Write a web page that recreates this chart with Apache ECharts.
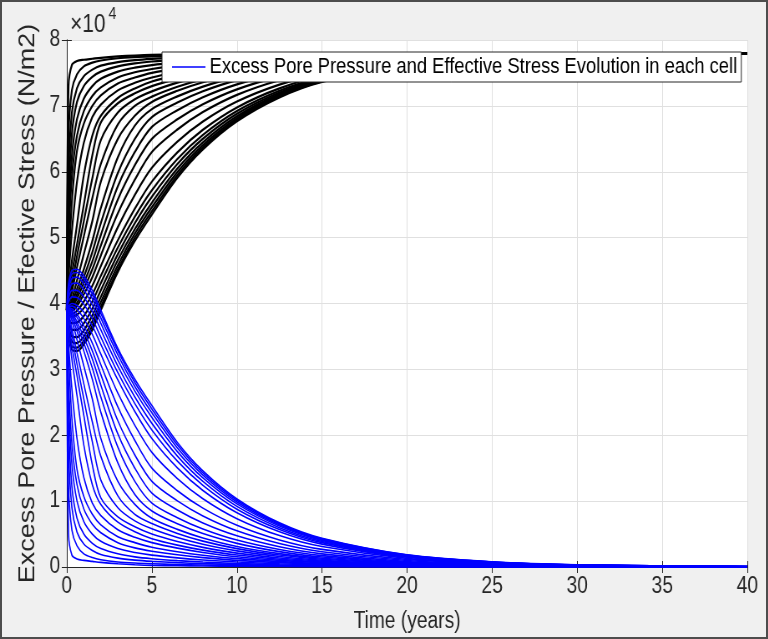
<!DOCTYPE html>
<html>
<head>
<meta charset="utf-8">
<script src="https://cdn.jsdelivr.net/npm/echarts@6/dist/echarts.min.js"></script>
<style>
  html, body { margin: 0; padding: 0; background: #f0f0f0; }
  #frame { position: relative; width: 768px; height: 639px; overflow: hidden; }
  /* the reference figure is squeezed horizontally, so the chart is drawn wider and scaled */
  #main { position: absolute; left: 0; top: 0; width: 920px; height: 639px;
          transform: scaleX(0.835); transform-origin: 0 0; }
  #border { position: absolute; left: 0; top: 0; width: 768px; height: 639px;
            box-sizing: border-box; border: 2px solid #4d4d4d; pointer-events: none; }
</style>
</head>
<body>
<div id="frame"><div id="main"></div><div id="border"></div></div>
<script>
// time samples (years)
var years = [0, 0.1, 0.3, 0.6, 1, 1.5, 2, 3, 4, 5, 6.5, 8, 10, 12.5, 15, 20, 25, 30, 40];

// excess pore pressure in each cell, in 10^4 N/m2
var porePressure = [
  [3.9, 0.5, 0.18, 0.12, 0.1, 0.085, 0.07, 0.05, 0.035, 0.025, 0.019, 0.015, 0.011, 0.007, 0.004, 0.002, 0.001, 0, 0],
  [3.9, 1.25, 0.56, 0.32, 0.2, 0.143, 0.111, 0.077, 0.06, 0.05, 0.039, 0.03, 0.021, 0.014, 0.009, 0.004, 0.002, 0.001, 0],
  [3.9, 1.8, 0.9, 0.53, 0.35, 0.25, 0.19, 0.135, 0.105, 0.086, 0.066, 0.051, 0.036, 0.024, 0.015, 0.006, 0.003, 0.001, 0],
  [3.9, 2.21, 1.22, 0.74, 0.5, 0.36, 0.28, 0.2, 0.154, 0.126, 0.097, 0.075, 0.053, 0.035, 0.022, 0.009, 0.004, 0.002, 0],
  [3.9, 2.57, 1.56, 1.0, 0.69, 0.5, 0.39, 0.28, 0.22, 0.18, 0.139, 0.107, 0.076, 0.049, 0.032, 0.014, 0.006, 0.002, 0],
  [3.9, 2.84, 1.87, 1.25, 0.88, 0.65, 0.52, 0.37, 0.29, 0.24, 0.185, 0.143, 0.101, 0.066, 0.043, 0.018, 0.008, 0.003, 0.001],
  [3.9, 3.25, 2.25, 1.48, 1.07, 0.8, 0.64, 0.46, 0.37, 0.3, 0.232, 0.179, 0.127, 0.082, 0.053, 0.023, 0.01, 0.004, 0.001],
  [3.9, 3.4, 2.7, 1.95, 1.36, 0.97, 0.78, 0.565, 0.45, 0.37, 0.286, 0.221, 0.156, 0.101, 0.066, 0.028, 0.012, 0.005, 0.001],
  [3.9, 3.6, 3.15, 2.6, 1.85, 1.25, 0.95, 0.68, 0.535, 0.43, 0.332, 0.256, 0.181, 0.118, 0.077, 0.032, 0.014, 0.006, 0.001],
  [3.9, 3.72, 3.35, 2.9, 2.3, 1.55, 1.05, 0.76, 0.61, 0.5, 0.386, 0.298, 0.211, 0.137, 0.089, 0.038, 0.016, 0.007, 0.001],
  [3.9, 3.8, 3.52, 3.08, 2.55, 1.9, 1.32, 0.9, 0.7, 0.58, 0.448, 0.346, 0.245, 0.159, 0.103, 0.044, 0.018, 0.008, 0.001],
  [3.9, 3.85, 3.62, 3.25, 2.78, 2.2, 1.68, 1.08, 0.8, 0.66, 0.51, 0.393, 0.279, 0.181, 0.117, 0.05, 0.021, 0.009, 0.002],
  [3.9, 3.88, 3.74, 3.45, 3.05, 2.55, 1.95, 1.3, 0.95, 0.74, 0.571, 0.441, 0.312, 0.203, 0.132, 0.056, 0.024, 0.01, 0.002],
  [3.9, 3.89, 3.8, 3.58, 3.28, 2.85, 2.35, 1.58, 1.1, 0.85, 0.656, 0.507, 0.359, 0.233, 0.151, 0.064, 0.027, 0.011, 0.002],
  [3.9, 3.9, 3.84, 3.66, 3.4, 3.02, 2.58, 1.82, 1.3, 0.97, 0.749, 0.578, 0.409, 0.266, 0.173, 0.073, 0.031, 0.013, 0.002],
  [3.9, 3.91, 3.87, 3.72, 3.49, 3.16, 2.76, 2.02, 1.5, 1.12, 0.865, 0.668, 0.473, 0.307, 0.199, 0.084, 0.036, 0.015, 0.003],
  [3.9, 3.92, 3.89, 3.79, 3.58, 3.28, 2.92, 2.22, 1.7, 1.3, 1.004, 0.775, 0.549, 0.356, 0.231, 0.098, 0.041, 0.017, 0.003],
  [3.9, 3.93, 3.92, 3.84, 3.66, 3.4, 3.07, 2.43, 1.92, 1.5, 1.158, 0.894, 0.633, 0.411, 0.267, 0.113, 0.048, 0.02, 0.004],
  [3.9, 3.94, 3.96, 3.91, 3.77, 3.53, 3.23, 2.64, 2.15, 1.74, 1.343, 1.037, 0.734, 0.477, 0.31, 0.131, 0.055, 0.023, 0.004],
  [3.9, 3.96, 4.0, 3.97, 3.87, 3.66, 3.38, 2.84, 2.36, 1.95, 1.505, 1.162, 0.823, 0.534, 0.347, 0.147, 0.062, 0.026, 0.005],
  [3.9, 4.02, 4.1, 4.09, 3.99, 3.77, 3.49, 2.95, 2.48, 2.08, 1.606, 1.24, 0.878, 0.57, 0.37, 0.157, 0.066, 0.028, 0.005],
  [3.9, 4.08, 4.2, 4.2, 4.1, 3.88, 3.6, 3.05, 2.58, 2.18, 1.683, 1.299, 0.92, 0.597, 0.388, 0.164, 0.069, 0.029, 0.005],
  [3.9, 4.14, 4.3, 4.31, 4.21, 3.98, 3.7, 3.14, 2.67, 2.27, 1.752, 1.353, 0.958, 0.622, 0.404, 0.171, 0.072, 0.03, 0.005],
  [3.9, 4.2, 4.38, 4.4, 4.3, 4.07, 3.78, 3.22, 2.74, 2.34, 1.806, 1.395, 0.987, 0.641, 0.417, 0.176, 0.074, 0.031, 0.006],
  [3.9, 4.25, 4.45, 4.47, 4.37, 4.14, 3.85, 3.28, 2.8, 2.4, 1.853, 1.43, 1.013, 0.658, 0.427, 0.181, 0.076, 0.032, 0.006],
  [3.9, 4.3, 4.5, 4.52, 4.42, 4.2, 3.9, 3.32, 2.85, 2.45, 1.891, 1.46, 1.034, 0.671, 0.436, 0.184, 0.078, 0.033, 0.006]
];

// effective stress in each cell, in 10^4 N/m2
var effectiveStress = [
  [3.9, 7.3, 7.62, 7.68, 7.7, 7.715, 7.73, 7.75, 7.765, 7.775, 7.781, 7.785, 7.789, 7.793, 7.796, 7.798, 7.799, 7.8, 7.8],
  [3.9, 6.55, 7.24, 7.48, 7.6, 7.657, 7.689, 7.723, 7.74, 7.75, 7.761, 7.77, 7.779, 7.786, 7.791, 7.796, 7.798, 7.799, 7.8],
  [3.9, 6.0, 6.9, 7.27, 7.45, 7.55, 7.61, 7.665, 7.695, 7.714, 7.734, 7.749, 7.764, 7.776, 7.785, 7.794, 7.797, 7.799, 7.8],
  [3.9, 5.59, 6.58, 7.06, 7.3, 7.44, 7.52, 7.6, 7.646, 7.674, 7.703, 7.725, 7.747, 7.765, 7.778, 7.791, 7.796, 7.798, 7.8],
  [3.9, 5.23, 6.24, 6.8, 7.11, 7.3, 7.41, 7.52, 7.58, 7.62, 7.661, 7.693, 7.724, 7.751, 7.768, 7.786, 7.794, 7.798, 7.8],
  [3.9, 4.96, 5.93, 6.55, 6.92, 7.15, 7.28, 7.43, 7.51, 7.56, 7.615, 7.657, 7.699, 7.734, 7.757, 7.782, 7.792, 7.797, 7.799],
  [3.9, 4.55, 5.55, 6.32, 6.73, 7.0, 7.16, 7.34, 7.43, 7.5, 7.568, 7.621, 7.673, 7.718, 7.747, 7.777, 7.79, 7.796, 7.799],
  [3.9, 4.4, 5.1, 5.85, 6.44, 6.83, 7.02, 7.235, 7.35, 7.43, 7.514, 7.579, 7.644, 7.699, 7.734, 7.772, 7.788, 7.795, 7.799],
  [3.9, 4.2, 4.65, 5.2, 5.95, 6.55, 6.85, 7.12, 7.265, 7.37, 7.468, 7.544, 7.619, 7.682, 7.723, 7.768, 7.786, 7.794, 7.799],
  [3.9, 4.08, 4.45, 4.9, 5.5, 6.25, 6.75, 7.04, 7.19, 7.3, 7.414, 7.502, 7.589, 7.663, 7.711, 7.762, 7.784, 7.793, 7.799],
  [3.9, 4.0, 4.28, 4.72, 5.25, 5.9, 6.48, 6.9, 7.1, 7.22, 7.352, 7.454, 7.555, 7.641, 7.697, 7.756, 7.782, 7.792, 7.799],
  [3.9, 3.95, 4.18, 4.55, 5.02, 5.6, 6.12, 6.72, 7.0, 7.14, 7.29, 7.407, 7.521, 7.619, 7.683, 7.75, 7.779, 7.791, 7.798],
  [3.9, 3.92, 4.06, 4.35, 4.75, 5.25, 5.85, 6.5, 6.85, 7.06, 7.229, 7.359, 7.488, 7.597, 7.668, 7.744, 7.776, 7.79, 7.798],
  [3.9, 3.91, 4.0, 4.22, 4.52, 4.95, 5.45, 6.22, 6.7, 6.95, 7.144, 7.293, 7.441, 7.567, 7.649, 7.736, 7.773, 7.789, 7.798],
  [3.9, 3.9, 3.96, 4.14, 4.4, 4.78, 5.22, 5.98, 6.5, 6.83, 7.051, 7.222, 7.391, 7.534, 7.627, 7.727, 7.769, 7.787, 7.798],
  [3.9, 3.89, 3.93, 4.08, 4.31, 4.64, 5.04, 5.78, 6.3, 6.68, 6.935, 7.132, 7.327, 7.493, 7.601, 7.716, 7.764, 7.785, 7.797],
  [3.9, 3.88, 3.91, 4.01, 4.22, 4.52, 4.88, 5.58, 6.1, 6.5, 6.796, 7.025, 7.251, 7.444, 7.569, 7.702, 7.759, 7.783, 7.797],
  [3.9, 3.87, 3.88, 3.96, 4.14, 4.4, 4.73, 5.37, 5.88, 6.3, 6.642, 6.906, 7.167, 7.389, 7.533, 7.687, 7.752, 7.78, 7.796],
  [3.9, 3.86, 3.84, 3.89, 4.03, 4.27, 4.57, 5.16, 5.65, 6.06, 6.457, 6.763, 7.066, 7.323, 7.49, 7.669, 7.745, 7.777, 7.796],
  [3.9, 3.84, 3.8, 3.83, 3.93, 4.14, 4.42, 4.96, 5.44, 5.85, 6.295, 6.638, 6.977, 7.266, 7.453, 7.653, 7.738, 7.774, 7.795],
  [3.9, 3.78, 3.7, 3.71, 3.81, 4.03, 4.31, 4.85, 5.32, 5.72, 6.194, 6.56, 6.922, 7.23, 7.43, 7.643, 7.734, 7.772, 7.795],
  [3.9, 3.72, 3.6, 3.6, 3.7, 3.92, 4.2, 4.75, 5.22, 5.62, 6.117, 6.501, 6.88, 7.203, 7.412, 7.636, 7.731, 7.771, 7.795],
  [3.9, 3.66, 3.5, 3.49, 3.59, 3.82, 4.1, 4.66, 5.13, 5.53, 6.048, 6.447, 6.842, 7.178, 7.396, 7.629, 7.728, 7.77, 7.795],
  [3.9, 3.6, 3.42, 3.4, 3.5, 3.73, 4.02, 4.58, 5.06, 5.46, 5.994, 6.405, 6.813, 7.159, 7.383, 7.624, 7.726, 7.769, 7.794],
  [3.9, 3.55, 3.35, 3.33, 3.43, 3.66, 3.95, 4.52, 5.0, 5.4, 5.947, 6.37, 6.787, 7.142, 7.373, 7.619, 7.724, 7.768, 7.794],
  [3.9, 3.5, 3.3, 3.28, 3.38, 3.6, 3.9, 4.48, 4.95, 5.35, 5.909, 6.34, 6.766, 7.129, 7.364, 7.616, 7.722, 7.767, 7.794]
];

var legendName = 'Excess Pore Pressure and Effective Stress Evolution in each cell';
var axisColor = '#262626';
var font = 'Liberation Sans, Arial, sans-serif';

var myChart = echarts.init(document.getElementById('main'));

function toPoints(row) {
    return years.map(function (t, i) { return [t, row[i]]; });
}

var series = [];
// black first so the blue curves sit on top
effectiveStress.forEach(function (row, i) {
    series.push({
        type: 'line',
        name: 'Effective Stress ' + (i + 1),
        data: toPoints(row),
        showSymbol: false,
        smooth: 0.3,
        color: '#000',
        lineStyle: { color: '#000', width: 2.2 },
        silent: true
    });
});
porePressure.forEach(function (row, i) {
    series.push({
        type: 'line',
        name: legendName,
        data: toPoints(row),
        showSymbol: false,
        smooth: 0.3,
        color: '#0000ff',
        lineStyle: { color: '#0000ff', width: 1.6 },
        silent: true
    });
});

var option = {
    backgroundColor: '#f0f0f0',
    animation: false,
    textStyle: { fontFamily: font },
    grid: {
        left: 80, top: 40, width: 815, height: 527,
        show: true, backgroundColor: '#fff', borderWidth: 0
    },
    legend: {
        data: [legendName],
        left: 194, top: 52,
        icon: 'rect', itemWidth: 40, itemHeight: 1.5, itemGap: 6,
        padding: [4, 5, 4, 12],
        backgroundColor: '#fff',
        borderColor: axisColor, borderWidth: 1,
        textStyle: { fontSize: 22, color: '#000', fontFamily: font },
        selectedMode: false
    },
    xAxis: [{
        type: 'value', min: 0, max: 40, interval: 5,
        name: 'Time (years)', nameLocation: 'middle', nameGap: 43,
        nameTextStyle: { fontSize: 23, color: axisColor, fontFamily: font },
        axisLine: { lineStyle: { color: axisColor } },
        axisTick: { inside: true, length: 6, lineStyle: { color: axisColor } },
        axisLabel: { fontSize: 23, color: axisColor, margin: 8 },
        splitLine: { lineStyle: { color: '#e0e0e0' } }
    }, {
        type: 'value', min: 0, max: 40, interval: 5, position: 'top',
        axisLine: { lineStyle: { color: axisColor } },
        axisTick: { inside: true, length: 6, lineStyle: { color: axisColor } },
        axisLabel: { show: false },
        splitLine: { show: false }
    }],
    yAxis: [{
        type: 'value', min: 0, max: 8, interval: 1,
        name: 'Excess Pore Pressure / Efective Stress (N/m2)',
        nameLocation: 'middle', nameGap: 33,
        nameTextStyle: { fontSize: 27, color: axisColor, fontFamily: font },
        axisLine: { show: true, lineStyle: { color: axisColor } },
        axisTick: { show: true, inside: true, length: 6, lineStyle: { color: axisColor } },
        axisLabel: { fontSize: 23, color: axisColor, margin: 8 },
        splitLine: { lineStyle: { color: '#e0e0e0' } }
    }, {
        type: 'value', min: 0, max: 8, interval: 1, position: 'right',
        axisLine: { show: true, lineStyle: { color: axisColor } },
        axisTick: { show: true, inside: true, length: 6, lineStyle: { color: axisColor } },
        axisLabel: { show: false },
        splitLine: { show: false }
    }],
    graphic: [
        { type: 'text', left: 84, top: 13, style: { text: '\u00d710', fontSize: 25, fill: axisColor, fontFamily: font } },
        { type: 'text', left: 130, top: 6, style: { text: '4', fontSize: 17, fill: axisColor, fontFamily: font } }
    ],
    series: series
};
myChart.setOption(option);
window.addEventListener('resize', function () {
    myChart.resize();
});
</script>
</body>
</html>
